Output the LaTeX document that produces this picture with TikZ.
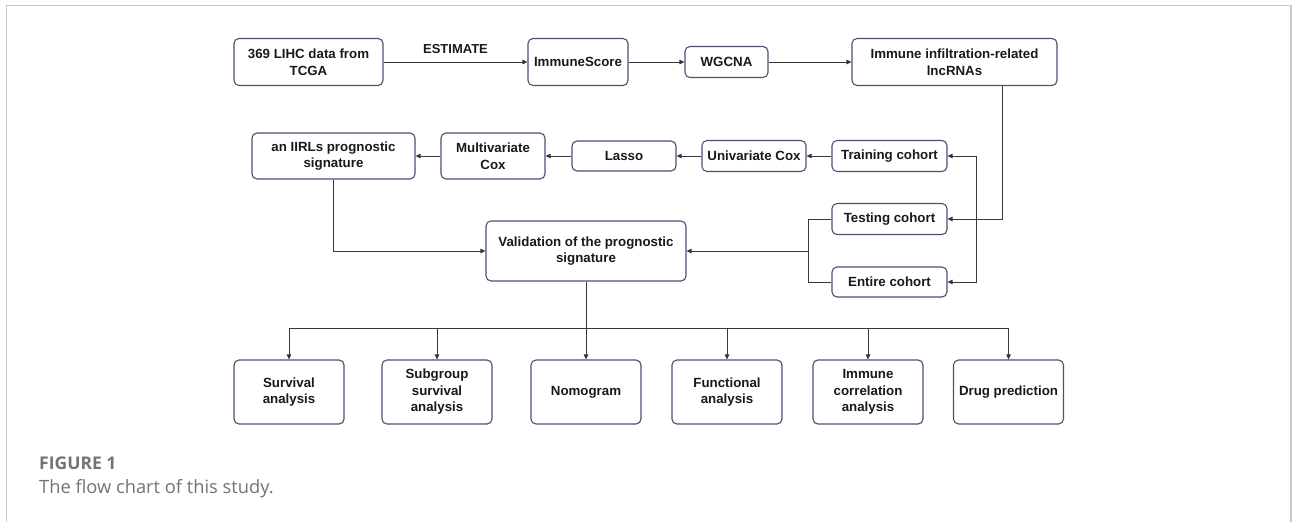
\documentclass[tikz,border=0pt]{standalone}
\usepackage{fontspec}
\setmainfont{Liberation Sans}
\newfontfamily\capfont{Open Sans}
\usetikzlibrary{arrows.meta,calc}
\definecolor{boxline}{RGB}{75,80,112}
\definecolor{conn}{RGB}{55,55,55}
\definecolor{frameg}{RGB}{200,200,200}
\definecolor{capg}{RGB}{115,115,115}
\begin{document}
\begin{tikzpicture}[x=1pt,y=-1pt,
  box/.style={draw=boxline,line width=1.1pt,rounded corners=5pt,align=center,inner sep=0pt,
    font=\fontsize{13.3}{16.5}\selectfont\bfseries,text=black!90},
  conline/.style={draw=conn,line width=0.9pt},
  arr/.style={conline,-{Triangle[length=5pt,width=4.5pt]}}]
\useasboundingbox (0,0) rectangle (1292,522);
\draw[frameg,line width=1.5pt] (6.5,522) -- (6.5,5.5) -- (1291,5.5) -- (1291,522);
% top row
\node[box,minimum width=149pt,minimum height=47pt] (A) at (308.5,62) {369 LIHC data from\\TCGA};
\node[box,minimum width=100pt,minimum height=47pt] (IS) at (578,62) {ImmuneScore};
\node[box,minimum width=83pt,minimum height=31pt] (WG) at (726.5,62) {WGCNA};
\node[box,minimum width=205pt,minimum height=47pt] (IIR) at (954.5,62) {Immune infiltration-related\\lncRNAs};
% second row
\node[box,minimum width=163pt,minimum height=46pt] (SIG) at (333.5,156) {an IIRLs prognostic\\signature};
\node[box,minimum width=104pt,minimum height=46pt] (MC) at (493,156) {Multivariate\\Cox};
\node[box,minimum width=104pt,minimum height=30pt] (LA) at (624,156) {Lasso};
\node[box,minimum width=104pt,minimum height=31pt] (UC) at (754,156) {Univariate Cox};
\node[box,minimum width=115pt,minimum height=31pt] (TR) at (889.5,156) {Training cohort};
\node[box,minimum width=115pt,minimum height=31pt] (TE) at (889.5,219) {Testing cohort};
\node[box,minimum width=115pt,minimum height=30pt] (EN) at (889.5,282) {Entire cohort};
\node[box,minimum width=200pt,minimum height=60pt] (VAL) at (586,251) {Validation of the prognostic\\signature};
% bottom row
\node[box,minimum width=110pt,minimum height=64pt] (B1) at (289,392) {Survival\\analysis};
\node[box,minimum width=110pt,minimum height=64pt] (B2) at (437,392) {Subgroup\\survival\\analysis};
\node[box,minimum width=110pt,minimum height=64pt] (B3) at (586,392) {Nomogram};
\node[box,minimum width=110pt,minimum height=64pt] (B4) at (727,392) {Functional\\analysis};
\node[box,minimum width=110pt,minimum height=64pt] (B5) at (868,392) {Immune\\correlation\\analysis};
\node[box,minimum width=110pt,minimum height=64pt] (B6) at (1008.5,392) {Drug prediction};
% connectors top
\draw[arr] (A) -- node[above=4.5pt,font=\fontsize{13}{16}\selectfont\bfseries,text=black!90] {ESTIMATE} (IS);
\draw[arr] (IS) -- (WG);
\draw[arr] (WG) -- (IIR);
\coordinate (c1) at (1002,219);
\draw[arr] (IIR.south -| c1) |- (TE.east);
\coordinate (br) at (976,219);
\draw[arr] (br) |- (TR.east);
\draw[arr] (br) |- (EN.east);
\draw[arr] (TR) -- (UC);
\draw[arr] (UC) -- (LA);
\draw[arr] (LA) -- (MC);
\draw[arr] (MC) -- (SIG);
\coordinate (bl) at (808,251);
\draw[conline] (TE.west) -| (bl) |- (EN.west);
\draw[arr] (bl) -- (VAL.east);
\draw[arr] (SIG.south) |- (VAL.west);
% bus
\coordinate (bus) at (586,328);
\draw[arr] (VAL.south) -- (B3.north);
\draw[conline] (B1.north |- bus) -- (B6.north |- bus);
\foreach \b in {B1,B2,B4,B5,B6} \draw[arr] (\b.north |- bus) -- (\b.north);
% caption
\node[anchor=base west,inner sep=0pt,text=capg,font=\capfont\bfseries\fontsize{17.5}{20}\selectfont] (cap1) at (39,469) {FIGURE 1};
\node[anchor=base west,inner sep=0pt,text=capg,font=\capfont\fontsize{18.3}{20}\selectfont] (cap2) at (39,493) {The flow chart of this study.};
\end{tikzpicture}
\end{document}
